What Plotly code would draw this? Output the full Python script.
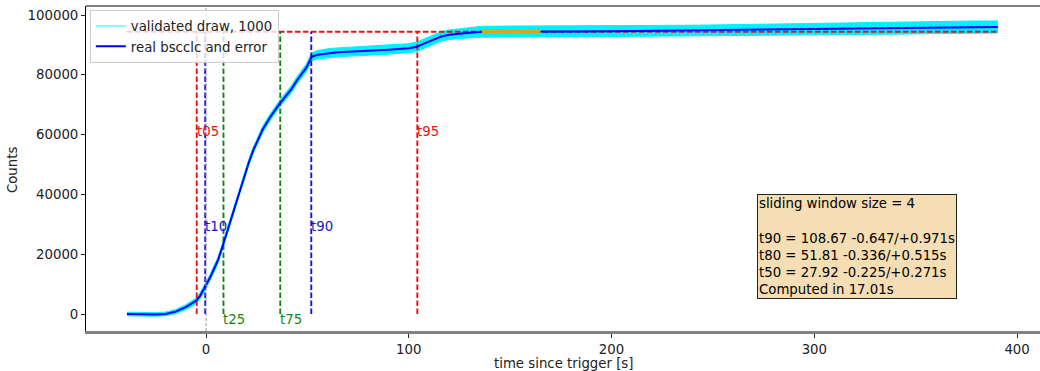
import plotly.graph_objects as go

# ---- data ----
time_s = [-39, -35, -30, -25, -20, -15, -10, -7, -5, -3, -1.5, 0, 2, 4.4, 6, 8.6, 11, 13.5, 16,
          18.4, 21, 23.3, 26, 28, 31.6, 34, 36.5, 39, 42, 44.7, 47, 49.6, 51, 52.1, 55,
          60, 65, 70, 80, 90, 100, 104, 108, 112, 116, 120, 125, 130, 136, 150, 165,
          180, 200, 220, 243, 260, 280, 300, 320, 340, 360, 380, 390.5]
counts = [0, -100, -200, -150, 0, 800, 2300, 3400, 4400, 6000, 7700, 9700, 12200, 15600, 18200,
          23600, 28800, 34300, 40000, 45300, 50500, 54800, 59000, 61800, 65800, 68300,
          70500, 72600, 75100, 78000, 80000, 82500, 84500, 86000, 86700, 87200, 87500,
          87700, 88000, 88400, 88900, 89400, 90600, 91800, 92800, 93400, 93800, 94100,
          94400, 94500, 94500, 94500, 94600, 94700, 94800, 94900, 95100, 95300, 95500,
          95600, 95800, 96000, 96000]
band_half = [600, 600, 600, 600, 600, 700, 800, 900, 900, 1000, 1000, 1000, 1000, 1000, 1000,
             1000, 1000, 1000, 1000, 1000, 1000, 1000, 1100, 1100, 1100, 1100, 1100, 1200,
             1200, 1200, 1200, 1300, 1300, 1300, 1400, 1500, 1500, 1500, 1500, 1500, 1500,
             1600, 1600, 1600, 1600, 1600, 1600, 1700, 1800, 1800, 1800, 1800, 1800, 1800,
             1800, 1900, 1900, 2000, 2000, 2000, 2000, 2000, 2000]

level_100 = 94400          # plateau level (horizontal red dashed line)
bkg_interval = [136, 165]  # golden segment

mark_names = ["t05", "t10", "t25", "t75", "t90", "t95"]
mark_times = [-4.6, -0.4, 8.6, 36.6, 51.9, 104.2]
mark_colors = ["#ee1111", "#1515c8", "#118811", "#118811", "#1515c8", "#ee1111"]
mark_label_frac = [0.645, 0.31, -0.021, -0.021, 0.31, 0.645]

info_lines = ["sliding window size = 4", "",
              "t90 = 108.67 -0.647/+0.971s",
              "t80 = 51.81 -0.336/+0.515s",
              "t50 = 27.92 -0.225/+0.271s",
              "Computed in 17.01s"]

x_ticks = [0, 100, 200, 300, 400]
y_ticks = [0, 20000, 40000, 60000, 80000, 100000]

FONT = "DejaVu Sans"
FS = 13.3

fig = go.Figure()

upper = [c + h for c, h in zip(counts, band_half)]
lower = [c - h for c, h in zip(counts, band_half)]

# cyan band of validated draws
fig.add_trace(go.Scatter(x=time_s, y=lower, mode="lines", line=dict(color="#00f0ff", width=1),
                         showlegend=False, hoverinfo="skip"))
fig.add_trace(go.Scatter(x=time_s, y=upper, mode="lines", line=dict(color="#00f0ff", width=1),
                         fill="tonexty", fillcolor="#00f0ff", showlegend=False, hoverinfo="skip"))
# legend proxy
fig.add_trace(go.Scatter(x=[None], y=[None], mode="lines",
                         line=dict(color="rgba(0,255,255,0.5)", width=2),
                         name="validated draw, 1000"))

# horizontal plateau line
fig.add_trace(go.Scatter(x=[time_s[0], time_s[-1]], y=[level_100, level_100], mode="lines",
                         line=dict(color="#ee1111", width=1.9, dash="5.5px,2.5px"),
                         showlegend=False, hoverinfo="skip"))

# vertical dashed mark lines
for name, t, col in zip(mark_names, mark_times, mark_colors):
    fig.add_trace(go.Scatter(x=[t, t], y=[0, level_100], mode="lines",
                             line=dict(color=col, width=1.9, dash="5.5px,2.5px"),
                             showlegend=False, hoverinfo="skip"))

# real light curve
fig.add_trace(go.Scatter(x=time_s, y=counts, mode="lines", line=dict(color="#0000ff", width=2),
                         name="real bscclc and error"))

# background interval
fig.add_trace(go.Scatter(x=bkg_interval, y=[level_100, level_100], mode="lines",
                         line=dict(color="#DAA520", width=4), showlegend=False, hoverinfo="skip"))

# gray dashed line at trigger time
fig.add_shape(type="line", xref="x", yref="paper", x0=0, x1=0, y0=0, y1=1,
              line=dict(color="#999999", width=1, dash="3px,2px"), layer="above")
# top spine
fig.add_shape(type="line", xref="paper", yref="paper", x0=0, x1=1, y0=1, y1=1,
              line=dict(color="black", width=1))

annotations = []
for name, t, col, fr in zip(mark_names, mark_times, mark_colors, mark_label_frac):
    annotations.append(dict(x=t, y=fr * level_100, xref="x", yref="y", text=name,
                            showarrow=False, xanchor="left", yanchor="middle", xshift=-2,
                            font=dict(family=FONT, size=FS, color=col)))

annotations.append(dict(x=0.7034, y=0.4215, xref="paper", yref="paper",
                        text="<br>".join(l if l else " " for l in info_lines),
                        showarrow=False, xanchor="left", yanchor="top", align="left",
                        bgcolor="#F5DEB3", bordercolor="#222222", borderwidth=1, borderpad=1,
                        font=dict(family=FONT, size=FS, color="black")))
annotations.append(dict(x=-0.0776, y=0.495, xref="paper", yref="paper", text="Counts",
                        textangle=-90, showarrow=False, xanchor="center", yanchor="middle",
                        font=dict(family=FONT, size=FS, color="#222")))
annotations.append(dict(x=0.501, y=-0.1015, xref="paper", yref="paper",
                        text="time since trigger [s]", showarrow=False,
                        xanchor="center", yanchor="middle",
                        font=dict(family=FONT, size=FS, color="#222")))

fig.update_layout(
    width=1040, height=371,
    margin=dict(l=86, r=0, t=6, b=40),
    paper_bgcolor="white", plot_bgcolor="white",
    font=dict(family=FONT, size=FS, color="#222"),
    showlegend=True,
    legend=dict(x=0.004, y=0.988, xanchor="left", yanchor="top", traceorder="normal",
                bgcolor="rgba(255,255,255,0.8)", bordercolor="#cccccc", borderwidth=1,
                font=dict(family=FONT, size=FS, color="#222"), tracegroupgap=0),
    annotations=annotations,
)
fig.update_xaxes(range=[-59.2, 411.3], showgrid=False, zeroline=False,
                 showline=True, linecolor="#808080", linewidth=2.5,
                 ticks="outside", ticklen=4, tickcolor="#222", tickwidth=1,
                 tickvals=x_ticks, ticktext=[str(v) for v in x_ticks])
fig.update_yaxes(range=[-5686, 103010], showgrid=False, zeroline=False,
                 showline=True, linecolor="black", linewidth=1,
                 ticks="outside", ticklen=4, tickcolor="#222", tickwidth=1,
                 tickvals=y_ticks, ticktext=[str(v) for v in y_ticks])

fig.write_html("out.html")
